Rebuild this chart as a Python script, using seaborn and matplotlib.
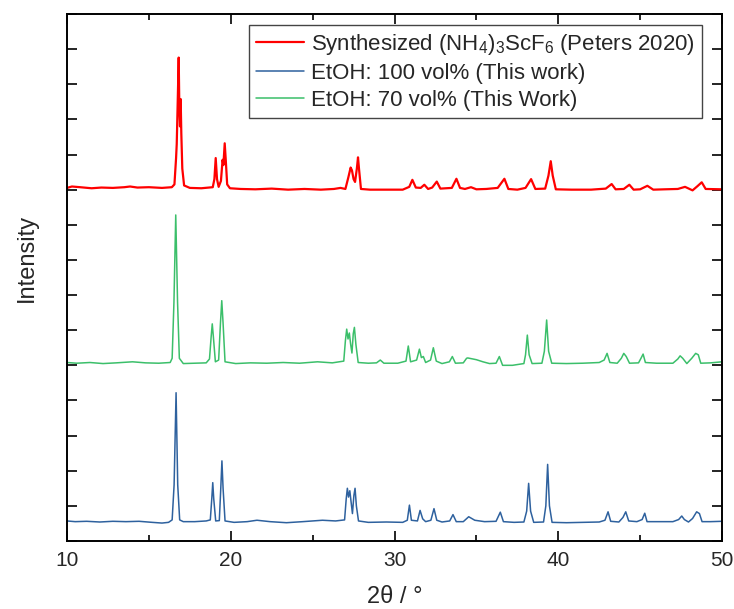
import matplotlib
matplotlib.use("Agg")
import matplotlib.pyplot as plt
from matplotlib.ticker import MultipleLocator, NullFormatter
import seaborn as sns
import pandas as pd

# XRD patterns, stacked with vertical offsets (intensity in arbitrary units)
red_2theta = [10.0, 10.3, 10.8, 11.5, 12.1, 12.8, 13.5, 13.85, 14.3, 15.0, 15.8, 16.4,
              16.56, 16.66, 16.70, 16.76, 16.82, 16.86, 16.90, 16.94, 16.98, 17.04, 17.15,
              17.5, 18.2, 18.9, 19.0, 19.08, 19.16, 19.26, 19.40, 19.50, 19.55, 19.63, 19.7,
              19.78, 19.95, 20.6, 21.5, 22.5, 23.5, 24.5, 25.5, 26.3, 26.7, 27.0, 27.18,
              27.32, 27.40, 27.50, 27.59, 27.70, 27.77, 27.83, 27.95, 28.5, 29.5, 30.5,
              30.9, 31.09, 31.3, 31.6, 31.82, 32.05, 32.3, 32.58, 32.8, 33.5, 33.78, 34.0,
              34.3, 34.67, 35.0, 35.6, 36.3, 36.71, 36.95, 37.5, 38.0, 38.34, 38.6, 39.2,
              39.4, 39.54, 39.66, 39.85, 40.8, 42.0, 42.9, 43.26, 43.5, 44.0, 44.34, 44.6,
              45.0, 45.44, 45.8, 46.5, 47.3, 47.74, 48.2, 48.5, 48.76, 49.0, 50.0]
red_intensity = [10.05, 10.09, 10.07, 10.04, 10.06, 10.05, 10.07, 10.09, 10.06, 10.07, 10.05, 10.07,
                 10.15, 10.9, 11.3, 12.5, 13.76, 12.3, 11.8, 12.58, 11.6, 10.6, 10.12,
                 10.05, 10.04, 10.07, 10.3, 10.90, 10.3, 10.08, 10.25, 10.85, 10.7, 11.32, 10.8,
                 10.15, 10.04, 10.02, 10.01, 10.03, 10.0, 10.02, 10.0, 10.02, 10.05, 10.02, 10.35,
                 10.63, 10.55, 10.3, 10.22, 10.6, 10.92, 10.6, 10.02, 10.0, 10.0, 10.0,
                 10.08, 10.28, 10.06, 10.05, 10.14, 10.02, 10.06, 10.23, 10.03, 10.05, 10.31, 10.05,
                 10.02, 10.07, 10.01, 10.02, 10.05, 10.31, 10.02, 10.0, 10.05, 10.30, 10.02, 10.03,
                 10.4, 10.81, 10.4, 10.01, 10.0, 10.0, 10.03, 10.16, 10.01, 10.02, 10.14, 10.0,
                 10.01, 10.11, 10.0, 10.01, 10.02, 10.08, 9.98, 10.1, 10.21, 10.02, 10.01]

blue_2theta = [10.0, 10.5, 11.2, 12.0, 12.8, 13.6, 14.4, 15.2, 15.8, 16.2, 16.42, 16.54,
               16.66, 16.76, 16.88, 17.1, 17.8, 18.5, 18.75, 18.84, 18.90, 18.96, 19.08, 19.3,
               19.39, 19.46, 19.53, 19.65, 20.2, 21.0, 21.6, 22.4, 23.4, 24.4, 25.6, 26.4,
               26.95, 27.05, 27.12, 27.19, 27.27, 27.35, 27.43, 27.52, 27.59, 27.67, 27.8, 28.4,
               29.5, 30.5, 30.78, 30.91, 31.03, 31.4, 31.56, 31.72, 31.9, 32.22, 32.41, 32.58,
               32.9, 33.37, 33.57, 33.77, 34.2, 34.53, 34.9, 35.5, 36.2, 36.46, 36.65, 37.3,
               37.9, 38.07, 38.19, 38.31, 38.5, 39.1, 39.24, 39.35, 39.46, 39.62, 40.5, 41.5,
               42.5, 42.85, 43.04, 43.2, 43.7, 43.95, 44.12, 44.3, 44.8, 45.12, 45.28, 45.42,
               46.2, 47.0, 47.35, 47.54, 47.7, 47.95, 48.2, 48.45, 48.62, 48.78, 49.3, 50.0]
blue_intensity = [0.57, 0.55, 0.56, 0.54, 0.56, 0.55, 0.56, 0.53, 0.51, 0.53, 0.60, 1.6,
                  4.22, 1.6, 0.60, 0.55, 0.55, 0.57, 0.60, 1.2, 1.66, 1.2, 0.57, 0.58,
                  1.5, 2.28, 1.5, 0.57, 0.53, 0.55, 0.59, 0.55, 0.52, 0.55, 0.59, 0.57,
                  0.60, 1.2, 1.5, 1.25, 1.43, 1.1, 0.78, 1.3, 1.5, 1.0, 0.57, 0.53,
                  0.54, 0.53, 0.59, 1.02, 0.59, 0.57, 0.87, 0.63, 0.55, 0.59, 0.92, 0.59,
                  0.54, 0.57, 0.75, 0.55, 0.55, 0.69, 0.59, 0.55, 0.56, 0.82, 0.55, 0.53,
                  0.54, 0.85, 1.64, 0.85, 0.53, 0.54, 1.0, 2.18, 1.0, 0.53, 0.52, 0.53,
                  0.54, 0.59, 0.83, 0.56, 0.54, 0.67, 0.83, 0.57, 0.55, 0.61, 0.79, 0.55,
                  0.55, 0.55, 0.61, 0.71, 0.61, 0.54, 0.64, 0.83, 0.78, 0.55, 0.55, 0.56]

green_2theta = [10.0, 10.6, 11.4, 12.2, 13.0, 14.0, 14.8, 15.6, 16.3, 16.42, 16.53, 16.64,
                16.75, 16.86, 17.1, 17.8, 18.5, 18.70, 18.80, 18.87, 18.94, 19.06, 19.26, 19.37,
                19.45, 19.53, 19.65, 20.3, 21.2, 22.2, 23.2, 24.2, 25.3, 26.2, 26.9, 27.0,
                27.08, 27.16, 27.24, 27.32, 27.40, 27.48, 27.55, 27.64, 27.78, 28.4, 28.9, 29.13,
                29.35, 30.2, 30.7, 30.84, 30.98, 31.35, 31.52, 31.64, 31.76, 31.9, 32.2, 32.37,
                32.55, 32.9, 33.35, 33.53, 33.72, 34.2, 34.4, 34.47, 35.0, 35.4, 35.8, 36.2,
                36.4, 36.6, 37.2, 37.9, 38.0, 38.11, 38.22, 38.4, 39.0, 39.15, 39.29, 39.41,
                39.6, 40.5, 41.5, 42.5, 42.8, 42.98, 43.15, 43.6, 43.85, 44.0, 44.15, 44.35,
                44.9, 45.05, 45.18, 45.32, 46.0, 47.0, 47.3, 47.44, 47.6, 47.85, 48.15, 48.39,
                48.55, 48.7, 49.3, 50.0]
green_intensity = [5.08, 5.06, 5.08, 5.05, 5.07, 5.10, 5.07, 5.06, 5.08, 5.2, 6.8, 9.28,
                   6.8, 5.2, 5.05, 5.06, 5.07, 5.18, 5.8, 6.18, 5.8, 5.1, 5.15, 6.2,
                   6.84, 6.2, 5.1, 5.05, 5.07, 5.06, 5.08, 5.06, 5.10, 5.07, 5.12, 5.7,
                   6.03, 5.75, 5.92, 5.6, 5.35, 5.9, 6.08, 5.6, 5.08, 5.06, 5.07, 5.15,
                   5.06, 5.06, 5.12, 5.55, 5.1, 5.15, 5.46, 5.22, 5.25, 5.08, 5.15, 5.50,
                   5.12, 5.05, 5.1, 5.25, 5.06, 5.07, 5.2, 5.21, 5.16, 5.1, 5.05, 5.06,
                   5.25, 5.0, 5.0, 5.05, 5.3, 5.86, 5.3, 5.05, 5.06, 5.4, 6.29, 5.4,
                   5.06, 5.05, 5.06, 5.08, 5.15, 5.34, 5.08, 5.06, 5.2, 5.34, 5.25, 5.06,
                   5.07, 5.2, 5.32, 5.08, 5.06, 5.06, 5.18, 5.27, 5.2, 5.05, 5.2, 5.34,
                   5.3, 5.06, 5.07, 5.10]

series_labels = ["Synthesized (NH$_4$)$_3$ScF$_6$ (Peters 2020)",
                 "EtOH: 100 vol% (This work)",
                 "EtOH: 70 vol% (This Work)"]
series_colors = ["#FF0000", "#2E619E", "#3BBF6A"]
series_widths = [1.6, 1.1, 1.1]

x_ticks = [10, 20, 30, 40, 50]

frames = []
for label, xs, ys in zip(series_labels,
                         [red_2theta, blue_2theta, green_2theta],
                         [red_intensity, blue_intensity, green_intensity]):
    frames.append(pd.DataFrame({"2theta": xs, "intensity": ys, "sample": label}))
data = pd.concat(frames, ignore_index=True)

sns.set_style("ticks")
plt.rcParams["font.family"] = ["Liberation Sans", "DejaVu Sans"]
plt.rcParams["mathtext.fontset"] = "custom"
plt.rcParams["mathtext.rm"] = "Liberation Sans"
plt.rcParams["mathtext.it"] = "Liberation Sans:italic"

fig = plt.figure(figsize=(7.34, 6.09), dpi=100)
ax = fig.add_axes([0.0913, 0.1117, 0.8924, 0.8653])

for label, color, lw in zip(series_labels, series_colors, series_widths):
    sub = data[data["sample"] == label]
    sns.lineplot(data=sub, x="2theta", y="intensity", color=color, linewidth=lw,
                 estimator=None, sort=False, label=label, ax=ax)

ax.set_xlim(10, 50)
ax.set_ylim(0, 15)
ax.set_xticks(x_ticks)
ax.xaxis.set_minor_locator(MultipleLocator(5))
ax.yaxis.set_major_locator(MultipleLocator(1))
ax.yaxis.set_major_formatter(NullFormatter())

ax.tick_params(which="both", direction="in", top=True, right=True, color="black",
               labelsize=15, pad=7)
ax.tick_params(which="major", length=7, width=1.2)
ax.tick_params(which="minor", length=4, width=1.2)
for sp in ax.spines.values():
    sp.set_linewidth(1.4)
    sp.set_color("black")

ax.set_xlabel("2θ / °", fontsize=17, labelpad=12)
ax.set_ylabel("Intensity", fontsize=17)
ax.yaxis.set_label_coords(-0.045, 0.537)

leg = ax.legend(loc="upper right", bbox_to_anchor=(0.969, 0.979), fontsize=16,
                frameon=True, fancybox=False, edgecolor="#444444", framealpha=1,
                handlelength=2.2, handletextpad=0.3, borderpad=0.3, labelspacing=0.28,
                borderaxespad=0)
leg.get_frame().set_linewidth(1.0)

fig.savefig("out.png", dpi=100)
